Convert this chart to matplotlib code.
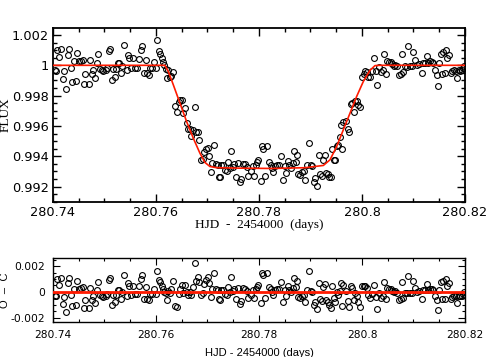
import numpy as np
from matplotlib import pyplot as plt
from matplotlib.ticker import MultipleLocator, FuncFormatter


# =========================
# Data
# =========================
HJD = [
    280.74039, 280.74052, 280.74084, 280.74123, 280.74162, 280.74188, 280.74214, 280.74252,
    280.74285, 280.74311, 280.74343, 280.74375, 280.74408, 280.74447, 280.74473, 280.74511,
    280.74544, 280.74576, 280.74602, 280.74628, 280.74693, 280.74719, 280.74751, 280.74783,
    280.74822, 280.74848, 280.74880, 280.74913, 280.74945, 280.74977, 280.75029, 280.75055,
    280.75081, 280.75113, 280.75139, 280.75172, 280.75198, 280.75223, 280.75262, 280.75288,
    280.75314, 280.75346, 280.75385, 280.75431, 280.75450, 280.75482, 280.75521, 280.75560,
    280.75599, 280.75638, 280.75677, 280.75702, 280.75735, 280.75767, 280.75800, 280.75819,
    280.75858, 280.75890, 280.75929, 280.75961, 280.75994, 280.76020, 280.76052, 280.76084,
    280.76110, 280.76130, 280.76162, 280.76194, 280.76214, 280.76240, 280.76272, 280.76298,
    280.76337, 280.76369, 280.76408, 280.76440, 280.76466, 280.76499, 280.76524, 280.76563,
    280.76602, 280.76628, 280.76654, 280.76686, 280.76712, 280.76751, 280.76783, 280.76816,
    280.76842, 280.76880, 280.76906, 280.76939, 280.76978, 280.77010, 280.77036, 280.77068,
    280.77094, 280.77133, 280.77165, 280.77198, 280.77217, 280.77243, 280.77269, 280.77308,
    280.77347, 280.77372, 280.77405, 280.77437, 280.77463, 280.77489, 280.77521, 280.77554,
    280.77593, 280.77625, 280.77657, 280.77696, 280.77728, 280.77761, 280.77793, 280.77839,
    280.77878, 280.77904, 280.77943, 280.77969, 280.77988, 280.78033, 280.78053, 280.78085,
    280.78117, 280.78150, 280.78195, 280.78228, 280.78260, 280.78279, 280.78318, 280.78357,
    280.78389, 280.78435, 280.78461, 280.78499, 280.78525, 280.78564, 280.78590, 280.78616,
    280.78655, 280.78681, 280.78719, 280.78745, 280.78765, 280.78797, 280.78836, 280.78868,
    280.78901, 280.78940, 280.78972, 280.79004, 280.79030, 280.79069, 280.79095, 280.79127,
    280.79160, 280.79186, 280.79218, 280.79250, 280.79276, 280.79302, 280.79334, 280.79360,
    280.79393, 280.79419, 280.79451, 280.79483, 280.79509, 280.79541, 280.79574, 280.79600,
    280.79613, 280.79632, 280.79690, 280.79729, 280.79755, 280.79788, 280.79814, 280.79846,
    280.79872, 280.79898, 280.79930, 280.79962, 280.80001, 280.80034, 280.80066, 280.80092,
    280.80124, 280.80157, 280.80195, 280.80234, 280.80267, 280.80299, 280.80338, 280.80370,
    280.80403, 280.80429, 280.80461, 280.80493, 280.80519, 280.80558, 280.80590, 280.80623,
    280.80649, 280.80688, 280.80726, 280.80752, 280.80778, 280.80804, 280.80836, 280.80869,
    280.80901, 280.80933, 280.80966, 280.80998, 280.81024, 280.81063, 280.81115, 280.81160,
    280.81192, 280.81231, 280.81257, 280.81289, 280.81322, 280.81361, 280.81387, 280.81425,
    280.81451, 280.81477, 280.81503, 280.81529, 280.81555, 280.81581, 280.81607, 280.81632,
    280.81658, 280.81690, 280.81723, 280.81755, 280.81788, 280.81820, 280.81852, 280.81878,
    280.81911, 280.81943, 280.81969, 280.81989,
]

FLUX = [
    0.99971, 0.99965, 1.00099, 1.00055, 1.00108, 0.99910, 0.99963, 0.99844,
    1.00066, 1.00108, 0.99980, 0.99892, 1.00026, 0.99899, 1.00081, 1.00026,
    1.00031, 1.00035, 0.99875, 0.99941, 0.99875, 1.00033, 0.99941, 0.99967,
    0.99914, 1.00015, 1.00077, 0.99976, 0.99971, 0.99963, 0.99967, 0.99982,
    1.00095, 1.00108, 0.99901, 0.99974, 0.99923, 0.99976, 1.00015, 1.00015,
    0.99949, 0.99998, 1.00132, 0.99971, 1.00070, 1.00048, 0.99980, 1.00046,
    0.99982, 0.99985, 1.00044, 1.00099, 1.00128, 0.99949, 1.00037, 0.99947,
    0.99936, 0.99985, 0.99985, 1.00020, 0.99982, 1.00165, 1.00092, 1.00075,
    1.00046, 1.00024, 1.00002, 0.99978, 0.99916, 0.99967, 0.99923, 0.99927,
    0.99954, 0.99734, 0.99690, 0.99756, 0.99769, 0.99771, 0.99685, 0.99716,
    0.99619, 0.99580, 0.99578, 0.99531, 0.99571, 0.99725, 0.99560, 0.99562,
    0.99509, 0.99377, 0.99382, 0.99426, 0.99448, 0.99457, 0.99404, 0.99296,
    0.99353, 0.99472, 0.99349, 0.99342, 0.99267, 0.99263, 0.99342, 0.99342,
    0.99311, 0.99300, 0.99360, 0.99320, 0.99437, 0.99327, 0.99347, 0.99267,
    0.99355, 0.99228, 0.99250, 0.99351, 0.99347, 0.99329, 0.99272, 0.99300,
    0.99333, 0.99272, 0.99340, 0.99360, 0.99373, 0.99239, 0.99465, 0.99450,
    0.99272, 0.99465, 0.99362, 0.99340, 0.99322, 0.99294, 0.99333, 0.99340,
    0.99340, 0.99399, 0.99241, 0.99333, 0.99289, 0.99366, 0.99340, 0.99322,
    0.99355, 0.99432, 0.99362, 0.99408, 0.99285, 0.99278, 0.99294, 0.99300,
    0.99245, 0.99344, 0.99487, 0.99340, 0.99333, 0.99228, 0.99256, 0.99206,
    0.99408, 0.99285, 0.99272, 0.99377, 0.99408, 0.99289, 0.99285, 0.99267,
    0.99263, 0.99448, 0.99377, 0.99373, 0.99465, 0.99472, 0.99525, 0.99608,
    0.99448, 0.99624, 0.99630, 0.99580, 0.99558, 0.99745, 0.99751, 0.99692,
    0.99767, 0.99762, 0.99740, 0.99727, 0.99921, 0.99945, 0.99963, 0.99958,
    0.99925, 0.99923, 0.99960, 1.00048, 0.99960, 0.99868, 0.99989, 0.99954,
    0.99971, 1.00077, 0.99945, 1.00031, 1.00024, 1.00020, 1.00009, 0.99996,
    1.00004, 0.99993, 0.99938, 0.99945, 1.00077, 0.99954, 0.99993, 0.99989,
    1.00125, 0.99993, 0.99993, 1.00086, 1.00033, 1.00002, 1.00011, 0.99949,
    1.00015, 1.00015, 1.00064, 1.00015, 1.00026, 1.00024, 1.00015, 0.99971,
    0.99938, 0.99861, 1.00015, 1.00077, 0.99945, 1.00086, 0.99949, 1.00103,
    1.00048, 1.00070, 0.99949, 0.99960, 0.99971, 0.99965, 0.99916, 0.99971,
    0.99965, 0.99971, 0.99982, 0.99998,
]

# Transit model (red curve), read as breakpoints along the line
MODEL_HJD = [
    280.74000, 280.76174, 280.76239, 280.76336, 280.76465, 280.76594, 280.76724,
    280.76853, 280.76950, 280.77047, 280.77177, 280.77632, 280.78250, 280.78900,
    280.79250, 280.79379, 280.79509, 280.79638, 280.79768, 280.79897, 280.80027,
    280.80156, 280.80253, 280.80350, 280.82000,
]
MODEL_FLUX = [
    1.00000, 1.00000, 0.99960, 0.99872, 0.99751, 0.99630, 0.99520,
    0.99421, 0.99360, 0.99333, 0.99325, 0.99322, 0.99320, 0.99325,
    0.99340, 0.99377, 0.99465, 0.99575, 0.99685, 0.99795, 0.99894,
    0.99967, 0.99998, 1.00000, 1.00000,
]

XTICKS = [280.74, 280.76, 280.78, 280.80, 280.82]
FLUX_TICKS = [0.992, 0.994, 0.996, 0.998, 1.000, 1.002]
OC_TICKS = [-0.002, 0.0, 0.002]

hjd = np.array(HJD)
flux = np.array(FLUX)
# O - C: data minus the model curve at each observation time
o_minus_c = flux - np.interp(hjd, MODEL_HJD, MODEL_FLUX)

fmt_g = FuncFormatter(lambda v, pos: "%g" % (round(v, 6) + 0.0))

fig = plt.figure(figsize=(4.91, 3.57), dpi=100)

# ---- light curve ----
ax = fig.add_axes([0.1079, 0.4342, 0.8391, 0.4874])
ax.plot(hjd, flux, "o", ms=4.2, mfc="none", mec="black", mew=0.8, zorder=2)
ax.plot(MODEL_HJD, MODEL_FLUX, color="#ff1a00", lw=1.2, zorder=3)
ax.set_xlim(280.74, 280.82)
ax.set_ylim(0.99099, 1.00246)
ax.set_xticks(XTICKS)
ax.set_yticks(FLUX_TICKS)
ax.xaxis.set_minor_locator(MultipleLocator(0.005))
ax.yaxis.set_minor_locator(MultipleLocator(0.0005))
ax.xaxis.set_major_formatter(fmt_g)
ax.yaxis.set_major_formatter(fmt_g)
ax.tick_params(which="both", direction="in", top=True, right=True, labelsize=9.3, width=1.0)
ax.tick_params(which="major", length=6, pad=3)
ax.tick_params(which="minor", length=3)
for s in ax.spines.values():
    s.set_linewidth(1.3)
ax.set_xlabel("HJD  -  2454000  (days)", family="Liberation Serif", fontsize=9.5)
ax.set_ylabel("FLUX", family="Liberation Serif", fontsize=9.5)
ax.xaxis.set_label_coords(0.5, -0.098)
ax.yaxis.set_label_coords(-0.100, 0.5)

# ---- residuals ----
ax2 = fig.add_axes([0.1079, 0.0989, 0.8391, 0.1776])
ax2.plot(hjd, o_minus_c, "o", ms=4.2, mfc="none", mec="black", mew=0.8, zorder=2)
ax2.axhline(0.0, color="#ff1a00", lw=2.0, zorder=3)
ax2.set_xlim(280.74, 280.82)
ax2.set_ylim(-0.0023, 0.0026)
ax2.set_xticks(XTICKS)
ax2.set_yticks(OC_TICKS)
ax2.xaxis.set_minor_locator(MultipleLocator(0.005))
ax2.yaxis.set_minor_locator(MultipleLocator(0.0005))
ax2.xaxis.set_major_formatter(fmt_g)
ax2.yaxis.set_major_formatter(fmt_g)
ax2.tick_params(which="both", direction="in", top=True, right=True, labelsize=7.7, width=0.8)
ax2.tick_params(which="major", length=5, pad=6)
ax2.tick_params(which="minor", length=2.5)
for s in ax2.spines.values():
    s.set_linewidth(1.0)
ax2.set_xlabel("HJD - 2454000 (days)", family="Liberation Sans", fontsize=8)
ax2.set_ylabel("O  \u2013  C", family="Liberation Sans", fontsize=8)
ax2.xaxis.set_label_coords(0.5, -0.42)
ax2.yaxis.set_label_coords(-0.104, 0.5)

fig.savefig("out.png", dpi=100)
